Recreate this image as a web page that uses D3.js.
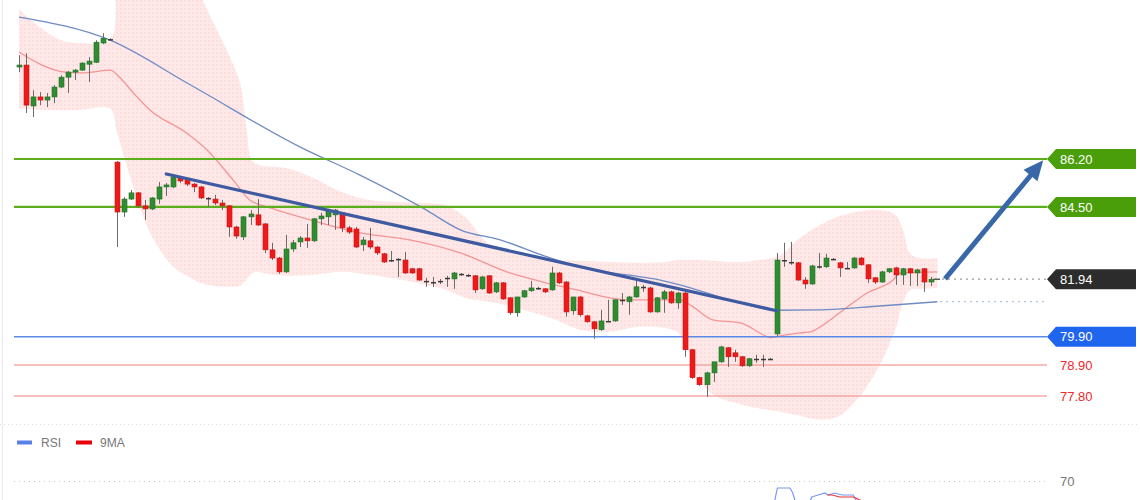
<!DOCTYPE html>
<html>
<head>
<meta charset="utf-8">
<script src="https://cdn.jsdelivr.net/npm/d3@7"></script>
<style>
  body { margin: 0; background: #fff; }
  svg { display: block; font-family: "Liberation Sans", Arial, sans-serif; }
</style>
</head>
<body>
<div id="chart"></div>
<script>
// candles: [open, high, low, close]
const candles = [
  [89.46,89.88,89.28,89.53],[89.53,89.95,87.83,88.11],[88.08,88.64,87.69,88.40],[88.40,88.57,88.11,88.29],
  [88.29,88.54,88.04,88.40],[88.40,88.82,88.18,88.75],[88.75,89.17,88.71,89.10],[89.10,89.32,88.54,89.28],
  [89.28,89.39,89.00,89.35],[89.35,89.63,89.32,89.60],[89.56,89.81,88.93,89.67],[89.63,90.41,89.60,90.34],
  [90.31,90.66,90.27,90.48],[90.45,90.48,90.41,90.43],[86.09,86.13,83.08,84.32],[84.32,84.85,84.15,84.78],
  [84.78,85.10,84.75,85.00],[85.00,85.03,84.46,84.54],[84.54,84.75,84.04,84.43],[84.43,84.85,84.39,84.82],
  [84.78,85.39,84.61,85.21],[85.21,85.35,84.89,85.28],[85.21,85.67,85.17,85.56],[85.56,85.60,85.35,85.42],
  [85.49,85.53,85.24,85.31],[85.31,85.35,85.03,85.21],[85.21,85.24,84.78,84.82],[84.82,84.85,84.50,84.80],
  [84.78,84.93,84.57,84.64],[84.64,84.75,84.39,84.54],[84.54,84.57,83.44,83.79],[83.79,83.83,83.37,83.47],
  [83.44,84.18,83.33,84.15],[84.15,84.39,83.86,84.25],[84.22,84.78,83.83,83.86],[83.90,83.93,82.87,82.98],
  [82.98,83.23,82.62,82.69],[82.69,82.73,82.13,82.20],[82.20,83.51,82.16,83.01],[83.01,83.33,82.91,83.23],
  [83.26,83.47,83.08,83.40],[83.40,83.90,83.05,83.30],[83.30,84.11,83.26,84.08],[84.08,84.29,83.86,84.18],
  [84.15,84.43,83.86,84.39],[84.22,84.43,83.69,84.39],[84.29,84.32,83.61,83.76],[83.76,83.83,83.54,83.61],
  [83.72,83.79,83.05,83.08],[83.16,83.44,82.94,83.33],[83.30,83.76,83.01,83.08],[83.08,83.12,82.80,82.87],
  [82.84,82.87,82.52,82.55],[82.62,82.94,82.55,82.60],[82.66,82.69,82.02,82.62],[82.62,82.91,82.13,82.16],
  [82.31,82.34,82.13,82.16],[82.31,82.34,81.88,81.91],[81.88,81.99,81.67,81.86],[81.84,82.02,81.67,81.82],
  [81.88,81.95,81.77,81.86],[81.99,82.06,81.67,81.97],[81.95,82.20,81.60,82.16],[82.13,82.16,82.06,82.11],
  [82.09,82.13,82.02,82.08],[82.06,82.09,81.45,81.56],[81.60,82.06,81.56,82.02],[82.06,82.09,81.42,81.45],
  [81.49,81.84,81.45,81.81],[81.81,81.84,81.21,81.24],[81.28,81.31,80.68,80.75],[80.75,81.31,80.61,81.31],
  [81.31,81.56,81.28,81.53],[81.53,81.88,81.49,81.63],[81.63,81.67,81.56,81.61],[81.60,81.63,81.45,81.49],
  [81.56,82.38,81.53,82.16],[82.16,82.20,81.77,81.81],[81.84,81.88,80.61,80.78],[80.82,81.31,80.68,81.31],
  [81.31,81.35,80.61,80.68],[80.64,80.68,80.40,80.43],[80.43,80.46,79.83,80.18],[80.15,80.85,80.11,80.46],
  [80.46,81.21,80.43,80.44],[80.46,81.21,80.43,81.21],[81.21,81.45,81.03,81.19],[81.14,81.35,80.68,81.31],
  [81.31,81.88,81.28,81.67],[81.67,81.74,81.49,81.65],[81.63,81.67,80.75,80.78],[80.78,81.31,80.75,81.28],
  [81.24,81.56,80.75,81.49],[81.49,81.53,81.07,81.10],[81.10,81.49,80.89,81.45],[81.45,81.49,79.19,79.44],
  [79.44,79.47,78.41,78.45],[78.45,78.48,78.16,78.20],[78.20,78.66,77.77,78.62],[78.62,79.01,78.30,79.01],
  [79.01,79.58,78.98,79.54],[79.51,79.54,78.83,79.19],[79.33,79.44,79.01,79.19],[79.19,79.22,78.83,78.87],
  [78.87,79.15,78.83,79.12],[79.12,79.26,78.98,79.10],[79.12,79.26,78.83,79.10],[79.12,79.15,79.08,79.11],
  [80.00,82.87,79.90,82.62],[82.59,83.23,82.38,82.62],[82.55,83.26,82.45,82.52],[82.52,82.55,81.88,81.91],
  [81.91,82.02,81.60,81.77],[81.77,82.45,81.74,82.41],[82.38,82.87,82.31,82.40],[82.38,82.84,82.34,82.69],
  [82.66,82.69,82.62,82.64],[82.52,82.55,82.02,82.34],[82.34,82.55,82.31,82.33],[82.34,82.73,82.31,82.69],
  [82.69,82.73,82.42,82.45],[82.45,82.48,81.81,81.95],[81.99,82.02,81.77,81.84],[81.84,82.24,81.81,82.20],
  [82.20,82.34,82.16,82.31],[82.34,82.38,81.74,82.09],[82.09,82.34,81.74,82.31],[82.31,82.34,81.70,82.16],
  [82.16,82.31,81.70,82.27],[82.31,82.34,81.49,81.84],[81.84,82.02,81.70,81.94]
];

// bollinger band, sampled at candle index
const bandIdx   = [0,3,6,9,13,14,16.3,18.7,22,24.4,26.2,29.6,31.5,32.5,33,33.6,35,38,42,46,50,54,58,61,64,66,68,72,76,80,84,88,92,94,95.7,97,99,103,108.5,111.3,114.2,117,120,122.7,124.9,126,127,128.4,130.9];
const bandUpper = [91.51,90.87,90.41,90.31,90.41,94.5,94.8,94.6,94.0,93.0,91.83,90.06,88.89,87.12,86.25,86.05,85.95,85.88,85.53,85.03,84.75,84.68,84.64,84.54,84.04,83.40,83.05,82.77,82.62,82.59,82.55,82.52,82.55,82.62,82.62,82.62,82.59,82.55,82.80,83.40,83.86,84.18,84.35,84.39,84.22,83.69,82.85,82.69,82.69];
const bandLower = [87.98,87.95,87.93,87.95,87.98,87.12,85.21,83.58,82.38,82.00,81.78,81.67,81.72,81.95,82.10,82.20,82.15,82.06,82.10,82.20,82.10,81.95,81.74,81.55,81.25,81.18,81.10,80.85,80.55,80.15,80.07,80.25,80.21,80.04,79.26,78.37,77.84,77.49,77.24,77.10,76.96,77.10,77.84,78.91,80.15,81.10,81.56,81.60,81.63];

// moving averages: [candle index, price]
const redMA = [[0,89.99],[3,89.56],[6,89.30],[9,89.25],[13,89.35],[14.5,89.05],[16.3,88.54],[18.7,87.93],[23.9,87.12],[26.8,86.52],[30.5,85.46],[32.9,84.75],[35.4,84.50],[40,84.15],[48.6,83.58],[55.7,83.33],[62.9,82.87],[70,82.16],[74.7,81.84],[79.5,81.56],[86.7,81.21],[94.2,81.21],[96.1,80.96],[98.9,80.50],[102.8,80.39],[106.1,79.97],[107.1,79.86],[108.5,79.93],[111.3,80.04],[112.8,80.07],[114.2,80.25],[117.5,80.85],[120.9,81.45],[124.6,81.91],[125.6,82.16],[130.9,82.20]];
const blueMA = [[0,91.23],[13,90.41],[24.4,88.83],[40.1,86.62],[48.6,85.63],[57.6,84.46],[62.9,83.69],[68.6,83.33],[75.3,82.73],[81.8,82.27],[86.7,82.09],[91.4,81.91],[95.2,81.67],[102.8,81.10],[108,80.84],[114.2,80.85],[122.7,80.99],[130.9,81.14]];

// trendline and projection arrow: [candle index, price]
const trendLine = [[21,85.67],[108,80.82]];
const arrowPts = [[132,81.95],[146,86.16]];

// levels
const levelValues = [86.20, 84.50, 79.90, 78.90, 77.80];
const levelKinds  = ["resist", "resist", "support", "minor", "minor"];
const lastPrice = 81.94;

// RSI panel
const rsiLine = [[107.6,58],[108.1,66.5],[109.9,66.5],[110.3,64],[110.8,58],[112.6,58],[113,62],[113.9,63],[114.9,64],[115.3,63],[116.3,64],[117.3,63],[118.9,63],[119.4,60]];
const rsiMA   = [[115.3,63],[115.9,63],[117,62],[118.9,62],[120.5,59.5]];
const rsiTicks = [70];

const W = 1140, H = 500;
const svg = d3.select('#chart').append('svg').attr('width', W).attr('height', H);

const x = d3.scaleLinear().domain([0, candles.length - 1]).range([19, 931]);
const y = d3.scaleLinear().domain([77.80, 86.20]).range([396, 159]);
const yRsi = d3.scaleLinear().domain([30, 70]).range([561, 481]);
const lineEnd = 1047;

const defs = svg.append('defs');
const pat = defs.append('pattern').attr('id', 'dots').attr('width', 4).attr('height', 4)
  .attr('patternUnits', 'userSpaceOnUse');
pat.append('rect').attr('width', 4).attr('height', 4).attr('fill', '#fee8e8');
pat.append('circle').attr('cx', 1).attr('cy', 1).attr('r', 0.7).attr('fill', '#f8d0d0');
defs.append('clipPath').attr('id', 'main').append('rect').attr('x', 0).attr('y', 0).attr('width', W).attr('height', 424);
defs.append('clipPath').attr('id', 'rsi').append('rect').attr('x', 0).attr('y', 425).attr('width', W).attr('height', 80);

// frame bits
svg.append('line').attr('x1', 2.5).attr('x2', 2.5).attr('y1', 0).attr('y2', H)
  .attr('stroke', '#e4ebee').attr('stroke-width', 1);
svg.append('line').attr('x1', 0).attr('x2', W).attr('y1', 424.5).attr('y2', 424.5)
  .attr('stroke', '#dcdcdc').attr('stroke-dasharray', '1,3');

const main = svg.append('g').attr('clip-path', 'url(#main)');

// band
const bandLine = d3.line().x(d => x(d[0])).y(d => y(d[1])).curve(d3.curveCatmullRom.alpha(0.5));
const up = bandIdx.map((v, i) => [v, bandUpper[i]]);
const lo = bandIdx.map((v, i) => [v, bandLower[i]]).reverse();
main.append('path')
  .attr('d', bandLine(up) + 'L' + bandLine(lo).slice(1) + 'Z')
  .attr('fill', 'url(#dots)');

const maLine = d3.line().x(d => x(d[0])).y(d => y(d[1])).curve(d3.curveMonotoneX);
main.append('path').attr('d', maLine(redMA)).attr('fill', 'none')
  .attr('stroke', '#f59595').attr('stroke-width', 1.3);
main.append('path').attr('d', maLine(blueMA)).attr('fill', 'none')
  .attr('stroke', '#6f8cc4').attr('stroke-width', 1.3);

// levels
const levelColor = { resist: '#5cae1c', support: '#5a8be6', minor: '#f7a9a9' };
const levelWidth = { resist: 2.2, support: 1.6, minor: 1.4 };
main.selectAll('.level').data(levelValues).enter().append('line')
  .attr('x1', 14).attr('x2', lineEnd)
  .attr('y1', d => y(d)).attr('y2', d => y(d))
  .attr('stroke', (d, i) => levelColor[levelKinds[i]])
  .attr('stroke-width', (d, i) => levelWidth[levelKinds[i]]);

// blue MA dotted extension and last price dotted line
const lastBlue = blueMA[blueMA.length - 1][1];
main.append('line').attr('x1', x(candles.length - 1) + 9).attr('x2', lineEnd)
  .attr('y1', y(lastBlue)).attr('y2', y(lastBlue))
  .attr('stroke', '#9db3dc').attr('stroke-width', 1.2).attr('stroke-dasharray', '2,4');
main.append('line').attr('x1', x(candles.length - 1) + 3).attr('x2', x(candles.length - 1) + 9)
  .attr('y1', y(lastPrice)).attr('y2', y(lastPrice)).attr('stroke', '#333').attr('stroke-width', 1.2);
main.append('line').attr('x1', x(candles.length - 1) + 11).attr('x2', lineEnd)
  .attr('y1', y(lastPrice)).attr('y2', y(lastPrice))
  .attr('stroke', '#999').attr('stroke-width', 1.2).attr('stroke-dasharray', '2,4');

// candles
const bw = 5;
const cg = main.append('g').selectAll('g').data(candles).enter().append('g');
cg.append('line')
  .attr('x1', (d, i) => Math.round(x(i)) + 0.5).attr('x2', (d, i) => Math.round(x(i)) + 0.5)
  .attr('y1', d => y(d[1])).attr('y2', d => y(d[2]))
  .attr('stroke', '#6b6b6b').attr('stroke-width', 1);
cg.append('rect')
  .attr('x', (d, i) => Math.round(x(i)) + 0.5 - bw / 2)
  .attr('width', bw)
  .attr('y', d => Math.min(y(d[0]), y(d[3])))
  .attr('height', d => Math.max(1.5, Math.abs(y(d[0]) - y(d[3]))))
  .attr('fill', d => Math.abs(y(d[0]) - y(d[3])) < 1.5 ? '#3a3a3a' : (d[3] >= d[0] ? '#2f8d2f' : '#ee1a1a'))
  .attr('stroke', d => Math.abs(y(d[0]) - y(d[3])) < 1.5 ? 'none' : (d[3] >= d[0] ? '#22702a' : '#c81414'))
  .attr('stroke-width', 0.6);

// trendline
main.append('line')
  .attr('x1', x(trendLine[0][0])).attr('y1', y(trendLine[0][1]))
  .attr('x2', x(trendLine[1][0])).attr('y2', y(trendLine[1][1]))
  .attr('stroke', '#3e5aa0').attr('stroke-width', 3.2).attr('stroke-linecap', 'round');

// arrow
const ax0 = x(arrowPts[0][0]), ay0 = y(arrowPts[0][1]);
const ax1 = x(arrowPts[1][0]), ay1 = y(arrowPts[1][1]);
const ang = Math.atan2(ay1 - ay0, ax1 - ax0);
const headLen = 20, headW = 9;
const bx = ax1 - headLen * Math.cos(ang), by = ay1 - headLen * Math.sin(ang);
main.append('line').attr('x1', ax0).attr('y1', ay0).attr('x2', bx + 2 * Math.cos(ang)).attr('y2', by + 2 * Math.sin(ang))
  .attr('stroke', '#3868a8').attr('stroke-width', 5);
main.append('path')
  .attr('d', `M${ax1},${ay1}L${bx - headW * Math.sin(ang)},${by + headW * Math.cos(ang)}L${bx + headW * Math.sin(ang)},${by - headW * Math.cos(ang)}Z`)
  .attr('fill', '#3868a8');

// labels
const tagColor = { resist: '#4a9e0a', support: '#1f65ee' };
function tag(val, fill) {
  const cy = y(val);
  svg.append('path')
    .attr('d', `M${lineEnd},${cy}L${lineEnd + 9},${cy - 10}L1136,${cy - 10}L1136,${cy + 10}L${lineEnd + 9},${cy + 10}Z`)
    .attr('fill', fill);
  svg.append('text').attr('x', 1060).attr('y', cy).attr('dy', '0.36em')
    .attr('fill', '#fff').attr('font-size', 13).text(val.toFixed(2));
}
levelValues.forEach((v, i) => {
  const k = levelKinds[i];
  if (k === 'minor') {
    svg.append('text').attr('x', 1060).attr('y', y(v)).attr('dy', '0.36em')
      .attr('fill', '#ee2a2a').attr('font-size', 13).text(v.toFixed(2));
  } else {
    tag(v, tagColor[k]);
  }
});
tag(lastPrice, '#2c2c2c');

// RSI panel
const legend = svg.append('g');
legend.append('rect').attr('x', 17).attr('y', 440.5).attr('width', 15).attr('height', 4).attr('fill', '#5b80e6');
legend.append('text').attr('x', 41).attr('y', 447).attr('font-size', 12).attr('fill', '#777').text('RSI');
legend.append('rect').attr('x', 76).attr('y', 440.5).attr('width', 16).attr('height', 4).attr('fill', '#e8000b');
legend.append('text').attr('x', 100).attr('y', 447).attr('font-size', 12).attr('fill', '#777').text('9MA');

const rsiG = svg.append('g').attr('clip-path', 'url(#rsi)');
rsiG.selectAll('.rt').data(rsiTicks).enter().append('line')
  .attr('x1', 14).attr('x2', 1045).attr('y1', d => yRsi(d) + 0.5).attr('y2', d => yRsi(d) + 0.5)
  .attr('stroke', '#c9c9c9').attr('stroke-dasharray', '1,4');
svg.selectAll('.rl').data(rsiTicks).enter().append('text')
  .attr('x', 1060).attr('y', d => yRsi(d)).attr('dy', '0.36em')
  .attr('font-size', 13).attr('fill', '#777').text(d => d);
const rsiPath = d3.line().x(d => x(d[0])).y(d => yRsi(d[1]));
rsiG.append('path').attr('d', rsiPath(rsiLine)).attr('fill', 'none')
  .attr('stroke', '#7b98ee').attr('stroke-width', 1.2);
rsiG.append('path').attr('d', rsiPath(rsiMA)).attr('fill', 'none')
  .attr('stroke', '#f03434').attr('stroke-width', 1.2);
</script>
</body>
</html>
